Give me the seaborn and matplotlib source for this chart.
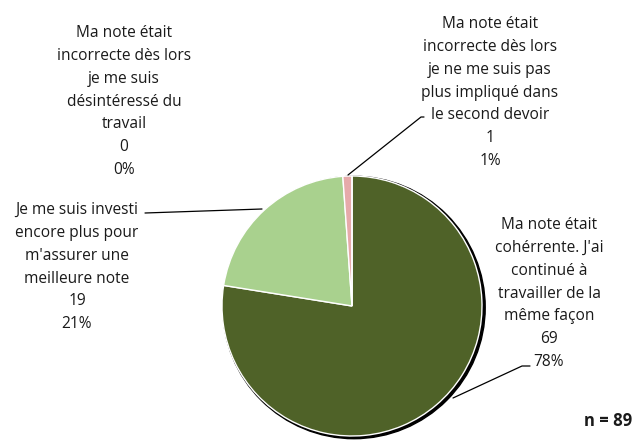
import matplotlib
matplotlib.use("Agg")
import matplotlib.pyplot as plt
from matplotlib.patches import Circle
import seaborn as sns

sns.set_theme(style="white")
plt.rcParams['font.family'] = ['Open Sans', 'DejaVu Sans']

# Data (clockwise from top)
categories = [
    "Ma note était\ncohérrente. J'ai\ncontinué à\ntravailler de la\nmême façon",
    "Je me suis investi\nencore plus pour\nm'assurer une\nmeilleure note",
    "Ma note était\nincorrecte dès lors\nje ne me suis pas\nplus impliqué dans\nle second devoir",
    "Ma note était\nincorrecte dès lors\nje me suis\ndésintéressé du\ntravail",
]
counts = [69, 19, 1, 0]
percents = ["78%", "21%", "1%", "0%"]
colors = ["#4F6228", "#A9D18E", "#E6AAAA", "#C0504D"]
n_total = 89

W, H = 636, 440
fig = plt.figure(figsize=(W / 100, H / 100), dpi=100)
ax = fig.add_axes([0, 0, 1, 1])

cx, cy, r = 352, H - 306, 130

# shadow
ax.add_patch(Circle((cx + 2.0, cy - 1.5), r + 1.2, color="black", zorder=1))

ax.pie(counts, colors=colors, startangle=90, counterclock=False,
       center=(cx, cy), radius=r, frame=True,
       wedgeprops=dict(edgecolor="white", linewidth=1.0, zorder=2))
ax.set_xlim(0, W)
ax.set_ylim(0, H)
ax.set_aspect("equal")
ax.axis("off")

fs = 11.2
ls = 1.57
# centre of first text line (pixels from top)
label_pos = [(549, 225), (77, 210), (490, 24), (124, 33)]
for cat, c, p, (x, y) in zip(categories, counts, percents, label_pos):
    ax.text(x, H - y + 8, f"{cat}\n{c}\n{p}", ha="center", va="top",
            fontsize=fs, linespacing=ls, color="#1a1a1a", zorder=5)

# leader lines
lc = dict(color="black", linewidth=0.9, zorder=4)
ax.plot([348, 421, 424], [H - 175, H - 117, H - 117], **lc)
ax.plot([262, 145], [H - 209, H - 213], **lc)
ax.plot([453, 522, 530], [H - 398, H - 366, H - 366], **lc)

ax.text(632, H - 421, f"n = {n_total}", ha="right", va="center",
        fontsize=12, fontweight="bold", color="#1a1a1a")

fig.savefig("out.png", dpi=100)
